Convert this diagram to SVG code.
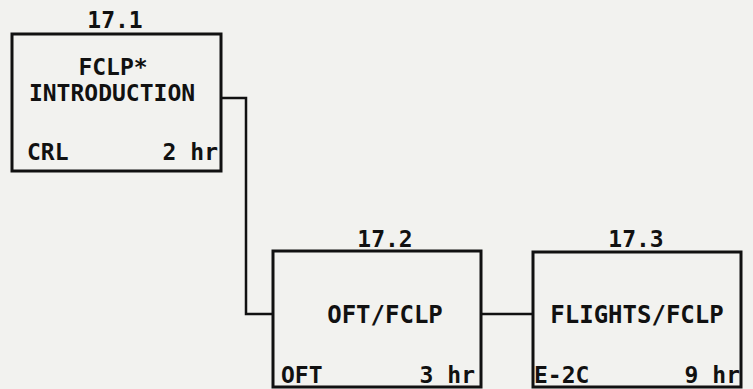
<svg xmlns="http://www.w3.org/2000/svg" width="753" height="389" viewBox="0 0 753 389">
<style>
.box{fill:none;stroke:#111;stroke-width:3}
.conn{fill:none;stroke:#111;stroke-width:2.5}
text{font-family:"DejaVu Sans Mono","Liberation Mono",monospace;font-weight:bold;font-size:23px;fill:#111}
.big{font-size:24px}
</style>
<rect width="753" height="389" fill="#f2f2ef"/>
<g id="connectors">
<polyline class="conn" points="221,98 246,98 246,314 273,314"/>
<line class="conn" x1="481" y1="314" x2="533" y2="314"/>
</g>
<g id="node-17-1">
<rect class="box" x="12" y="34" width="209" height="137"/>
<text x="115" y="28" text-anchor="middle">17.1</text>
<text x="113" y="75" text-anchor="middle">FCLP*</text>
<text x="112" y="101" text-anchor="middle">INTRODUCTION</text>
<text x="27" y="160">CRL</text>
<text x="218" y="160" text-anchor="end">2 hr</text>
</g>
<g id="node-17-2">
<rect class="box" x="273" y="251" width="208" height="136"/>
<text x="385" y="247" text-anchor="middle">17.2</text>
<text class="big" x="385" y="323" text-anchor="middle">OFT/FCLP</text>
<text x="281" y="383">OFT</text>
<text x="475" y="383" text-anchor="end">3 hr</text>
</g>
<g id="node-17-3">
<rect class="box" x="533" y="252" width="208" height="135"/>
<text x="636" y="247" text-anchor="middle">17.3</text>
<text class="big" x="637" y="323" text-anchor="middle">FLIGHTS/FCLP</text>
<text x="534" y="383">E-2C</text>
<text x="740" y="383" text-anchor="end">9 hr</text>
</g>
</svg>
